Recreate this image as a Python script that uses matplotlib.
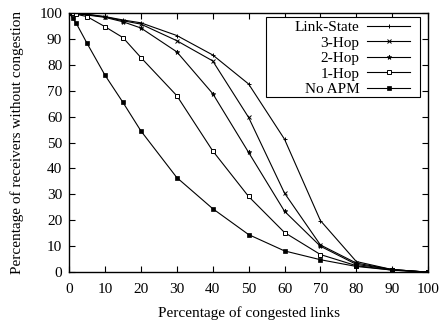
import matplotlib
matplotlib.use("Agg")
import matplotlib.pyplot as plt
from matplotlib.patches import Rectangle

plt.rcParams['font.family'] = ['Liberation Serif', 'DejaVu Serif']

x = [0, 1, 2, 5, 10, 15, 20, 30, 40, 50, 60, 70, 80, 90, 100]
link_state = [100, 100, 99.8, 99.5, 98.6, 97.3, 96.2, 91.3, 83.8, 72.6, 51.3, 19.9, 4.1, 1.0, 0]
hop3 = [100, 100, 99.8, 99.4, 98.5, 97.0, 95.7, 89.3, 81.5, 59.7, 30.5, 10.5, 3.5, 1.0, 0]
hop2 = [100, 100, 99.7, 99.2, 98.3, 96.6, 94.2, 85.0, 68.9, 46.2, 23.5, 10.0, 3.0, 1.0, 0]
hop1 = [100, 99.8, 99.5, 98.6, 94.7, 90.5, 82.8, 68.1, 46.8, 29.2, 15.3, 6.8, 2.5, 0.8, 0]
no_apm = [100, 98.0, 96.0, 88.3, 76.0, 65.5, 54.5, 36.5, 24.5, 14.5, 8.2, 4.8, 2.2, 0.8, 0]

labels = ['Link-State', '3-Hop', '2-Hop', '1-Hop', 'No APM']
series = [link_state, hop3, hop2, hop1, no_apm]

fig = plt.figure(figsize=(4.4, 3.24), dpi=100)
ax = fig.add_axes([0.157, 0.160, 0.816, 0.800])

styles = [
    dict(marker='+', ms=3.5, mew=0.7, mfc='black'),
    dict(marker='x', ms=3.0, mew=0.7, mfc='black'),
    dict(marker='*', ms=3.5, mew=0.5, mfc='black'),
    dict(marker='s', ms=3.0, mew=0.7, mfc='white'),
    dict(marker='s', ms=3.0, mew=0.5, mfc='black'),
]
for lab, y, st in zip(labels, series, styles):
    ax.plot(x, y, color='black', lw=0.8, mec='black', label=lab, **st)

ax.set_xlim(0, 100)
ax.set_ylim(0, 100)
ax.set_xticks(range(0, 101, 10))
ax.set_yticks(range(0, 101, 10))
ax.tick_params(direction='in', top=True, right=True, length=4, width=0.8,
               labelsize=11)
ax.tick_params(axis='x', pad=7.5)
ax.tick_params(axis='y', pad=5)
for s in ax.spines.values():
    s.set_linewidth(1.0)

ax.set_xlabel('Percentage of congested links', fontsize=11, labelpad=7.5)
ax.set_ylabel('Percentage of receivers without congestion', fontsize=11, labelpad=11)

# legend box (gnuplot style)
ax.add_patch(Rectangle((0.549, 0.676), 0.429, 0.309, transform=ax.transAxes,
                       facecolor='white', edgecolor='black', lw=0.8, zorder=4))
leg = ax.legend(loc='upper right', markerfirst=False, fontsize=11,
                frameon=False, handlelength=2.8, handletextpad=0.52,
                labelspacing=0.12, borderpad=0.0,
                bbox_to_anchor=(0.950, 0.971), borderaxespad=0)
leg.set_zorder(5)

fig.savefig('out.png', dpi=100)
